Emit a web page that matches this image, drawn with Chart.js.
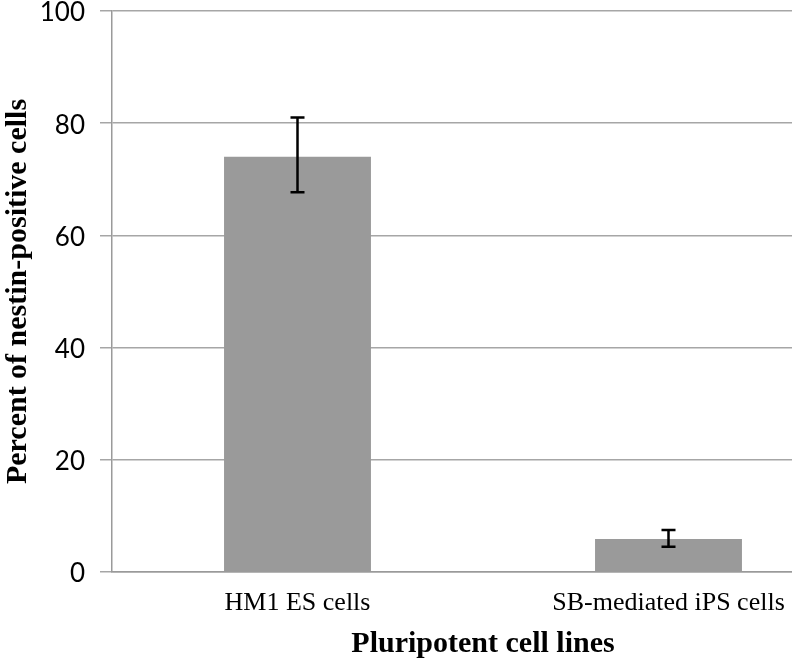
<!DOCTYPE html>
<html>
<head>
<meta charset="utf-8">
<script src="https://cdn.jsdelivr.net/npm/chart.js@4"></script>
<style>
  html, body { margin: 0; padding: 0; background: #fff; overflow: hidden; }
  #wrap { width: 792px; height: 662px; overflow: hidden; }
</style>
</head>
<body>
<div id="wrap"><canvas id="chart" width="854" height="662"></canvas></div>
<script>
// ── Data ────────────────────────────────────────────────────────────────────
const categories = ['HM1 ES cells', 'SB-mediated iPS cells'];
const percentNestin = [74, 5.9];
const errLow = [67.7, 4.5];
const errHigh = [81, 7.5];
const yTicks = [0, 20, 40, 60, 80, 100];

// ── Error bars ──────────────────────────────────────────────────────────────
const errorBars = {
  id: 'errorBars',
  afterDatasetsDraw(chart) {
    const ctx = chart.ctx;
    const y = chart.scales.y;
    const meta = chart.getDatasetMeta(0);
    ctx.save();
    ctx.strokeStyle = '#000';
    ctx.lineWidth = 2.5;
    meta.data.forEach(function (bar, i) {
      const x = bar.x;
      const yHi = y.getPixelForValue(errHigh[i]);
      const yLo = y.getPixelForValue(errLow[i]);
      ctx.beginPath();
      ctx.moveTo(x, yHi); ctx.lineTo(x, yLo);
      ctx.moveTo(x - 7, yHi); ctx.lineTo(x + 7, yHi);
      ctx.moveTo(x - 7, yLo); ctx.lineTo(x + 7, yLo);
      ctx.stroke();
    });
    ctx.restore();
  }
};

new Chart(document.getElementById('chart'), {
  type: 'bar',
  data: {
    labels: categories,
    datasets: [{
      data: percentNestin,
      backgroundColor: '#9a9a9a',
      barPercentage: 0.396,
      categoryPercentage: 1.0,
    }]
  },
  options: {
    responsive: false,
    animation: false,
    layout: { padding: 0 },
    plugins: { legend: { display: false }, tooltip: { enabled: false } },
    scales: {
      x: {
        grid: { display: false, drawTicks: false },
        border: { color: '#9a9a9a', width: 1.5 },
        ticks: { color: '#000', padding: 16, font: { family: 'Liberation Serif', size: 26 } },
        title: {
          display: true, text: 'Pluripotent cell lines', color: '#000',
          font: { family: 'Liberation Serif', size: 30, weight: 'bold' },
          padding: { top: 0, bottom: 0 }
        },
        afterFit(scale) { scale.height = 90; scale.paddingLeft = 0; scale.paddingRight = 0; }
      },
      y: {
        min: 0, max: 100,
        afterBuildTicks(scale) { scale.ticks = yTicks.map(v => ({ value: v })); },
        grid: { color: '#a6a6a6', lineWidth: 1.5, tickLength: 12 },
        border: { color: '#9a9a9a', width: 1.5 },
        ticks: { color: '#000', padding: 15, labelOffset: 2, font: { family: 'Lato', size: 26, lineHeight: 1 } },
        title: {
          display: true, text: 'Percent of nestin-positive cells', color: '#000',
          font: { family: 'Liberation Serif', size: 30, weight: 'bold' },
          padding: { top: 0, bottom: 0 }
        },
        afterFit(scale) { scale.width = 112; scale.paddingTop = 11; scale.paddingBottom = 0; }
      }
    }
  },
  plugins: [errorBars]
});
</script>
</body>
</html>
